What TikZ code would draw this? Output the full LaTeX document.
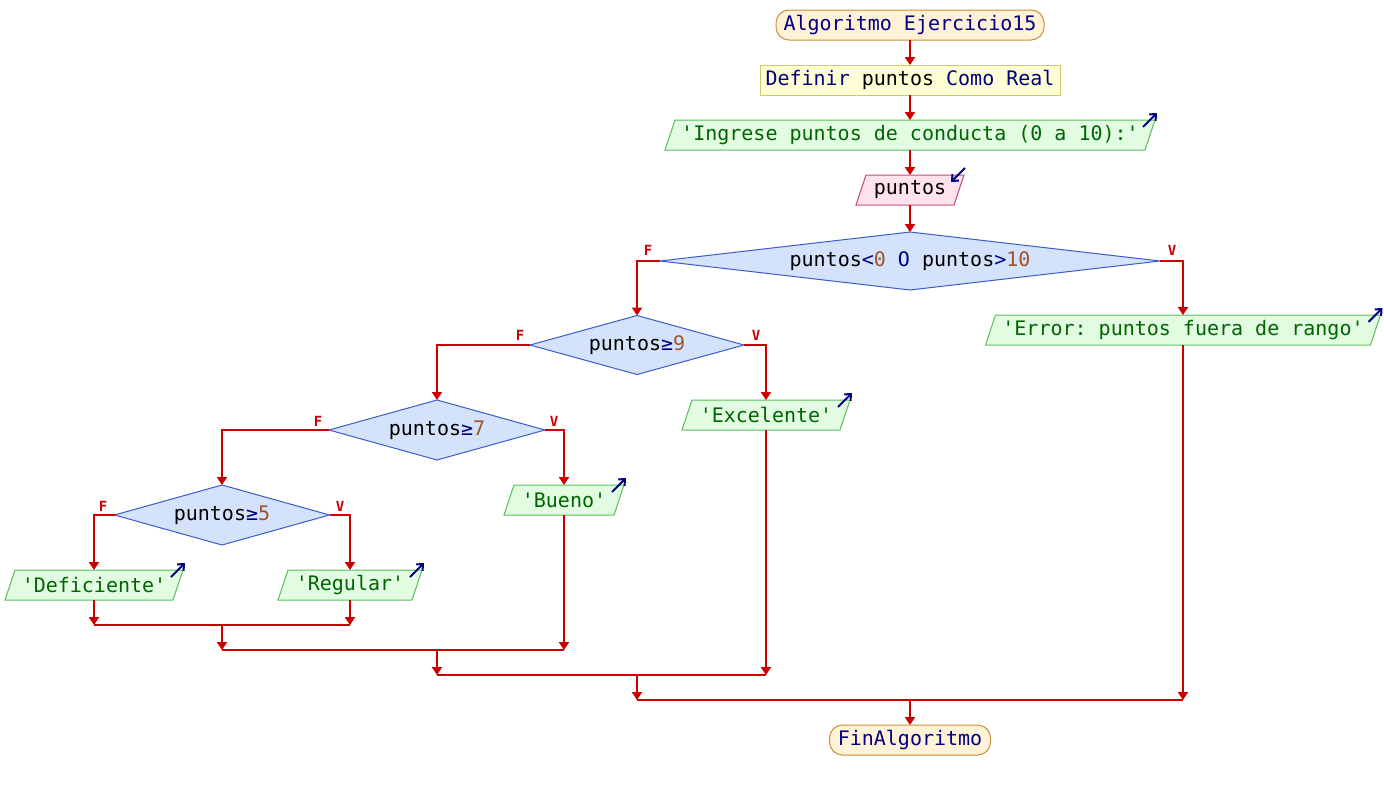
\documentclass[tikz,border=0pt]{standalone}
\usepackage{fontspec}
\setmonofont{DejaVu Sans Mono}
\usetikzlibrary{arrows.meta,calc,backgrounds}
\definecolor{lred}{HTML}{CC0000}
\definecolor{kw}{HTML}{000080}
\definecolor{strg}{HTML}{006400}
\definecolor{num}{HTML}{A0522D}
\definecolor{termfill}{HTML}{FFF2D6}
\definecolor{termdraw}{HTML}{C8913C}
\definecolor{deffill}{HTML}{FFFFD5}
\definecolor{defdraw}{HTML}{CCCC66}
\definecolor{outfill}{HTML}{E2FCE2}
\definecolor{outdraw}{HTML}{5DBE5D}
\definecolor{infill}{HTML}{FFE2EE}
\definecolor{indraw}{HTML}{C0507A}
\definecolor{dfill}{HTML}{D4E3FB}
\definecolor{ddraw}{HTML}{3A5BC8}
\newcommand{\myparal}[3]{%
  \path[fill=#2, draw=#3, line width=1pt]
    ($(#1.south west)+(-5,0)$) -- ($(#1.south east)+(-5,0)$) --
    ($(#1.north east)+(5,0)$) -- ($(#1.north west)+(5,0)$) -- cycle;}
\newcommand{\mydiam}[1]{%
  \path[fill=dfill, draw=ddraw, line width=1pt]
    (#1.west) -- (#1.north) -- (#1.east) -- (#1.south) -- cycle;}
\tikzset{
  base/.style={inner sep=0pt, outer sep=0pt, font=\ttfamily\fontsize{20}{24}\selectfont, align=center},
  term/.style={base, draw=termdraw, fill=termfill, rounded corners=13pt, line width=1pt, text=kw, minimum height=30pt},
  defbox/.style={base, draw=defdraw, fill=deffill, line width=1pt, minimum height=30pt},
  iobox/.style={base, minimum height=30pt},
  outbox/.style={iobox, text=strg},
  cond/.style={base},
  flow/.style={draw=lred, line width=2.2pt},
  arr/.style={flow, -{Triangle[length=8pt,width=10pt]}},
  lbl/.style={font=\ttfamily\bfseries\fontsize{14}{14}\selectfont, text=lred, inner sep=0pt},
  sarr/.style={draw=kw, line width=2pt, -{Straight Barb[length=5pt,width=9pt]}},
}
\begin{document}
\begin{tikzpicture}[x=1pt,y=-1pt]
\useasboundingbox (0,0) rectangle (1384,790);

% nodes
\node[term, minimum width=268pt] (start) at (910,25) {Algoritmo Ejercicio15};
\node[defbox, minimum width=300pt] (defn) at (910,80) {\textcolor{kw}{Definir} puntos \textcolor{kw}{Como Real}};
\node[outbox, minimum width=480pt] (ing) at (910,135) {'Ingrese puntos de conducta (0 a 10):'};
\node[iobox, minimum width=98pt] (inp) at (910,190) {puntos};
\node[cond, minimum width=500pt, minimum height=58pt] (d1) at (910,261)
  {puntos\textcolor{kw}{<}\textcolor{num}{0} \textcolor{kw}{O} puntos\textcolor{kw}{>}\textcolor{num}{10}};
\node[outbox, minimum width=385pt] (err) at (1183,330) {'Error: puntos fuera de rango'};
\node[cond, minimum width=214pt, minimum height=59pt] (d2) at (637,345) {puntos\textcolor{kw}{≥}\textcolor{num}{9}};
\node[outbox, minimum width=158pt] (exc) at (766,415) {'Excelente'};
\node[cond, minimum width=216pt, minimum height=60pt] (d3) at (437,430) {puntos\textcolor{kw}{≥}\textcolor{num}{7}};
\node[outbox, minimum width=110pt] (bue) at (564,500) {'Bueno'};
\node[cond, minimum width=215pt, minimum height=60pt] (d4) at (222,515) {puntos\textcolor{kw}{≥}\textcolor{num}{5}};
\node[outbox, minimum width=168pt] (defi) at (94,585) {'Deficiente'};
\node[outbox, minimum width=134pt] (reg) at (350,585) {'Regular'};
\node[term, minimum width=161pt] (fin) at (910,740) {FinAlgoritmo};

% shapes behind
\begin{scope}[on background layer]
  \myparal{ing}{outfill}{outdraw}
  \myparal{inp}{infill}{indraw}
  \myparal{err}{outfill}{outdraw}
  \myparal{exc}{outfill}{outdraw}
  \myparal{bue}{outfill}{outdraw}
  \myparal{defi}{outfill}{outdraw}
  \myparal{reg}{outfill}{outdraw}
  \mydiam{d1}
  \mydiam{d2}
  \mydiam{d3}
  \mydiam{d4}
\end{scope}

% small io arrows
\draw[sarr] ($(ing.north east)+(5,0)+(-12,7)$) -- ($(ing.north east)+(5,0)+(2,-7)$);
\draw[sarr] ($(inp.north east)+(5,0)+(1,-7)$) -- ($(inp.north east)+(5,0)+(-13,7)$);
\draw[sarr] ($(err.north east)+(5,0)+(-12,7)$) -- ($(err.north east)+(5,0)+(2,-7)$);
\draw[sarr] ($(exc.north east)+(5,0)+(-12,7)$) -- ($(exc.north east)+(5,0)+(2,-7)$);
\draw[sarr] ($(bue.north east)+(5,0)+(-12,7)$) -- ($(bue.north east)+(5,0)+(2,-7)$);
\draw[sarr] ($(defi.north east)+(5,0)+(-12,7)$) -- ($(defi.north east)+(5,0)+(2,-7)$);
\draw[sarr] ($(reg.north east)+(5,0)+(-12,7)$) -- ($(reg.north east)+(5,0)+(2,-7)$);

% main flow
\draw[arr] (start) -- (defn);
\draw[arr] (defn) -- (ing);
\draw[arr] (ing) -- (inp);
\draw[arr] (inp) -- (d1);

% branches
\draw[arr] (d1.west) -| (d2.north);
\draw[arr] (d1.east) -| (err.north);
\draw[arr] (d2.west) -| (d3.north);
\draw[arr] (d2.east) -| (exc.north);
\draw[arr] (d3.west) -| (d4.north);
\draw[arr] (d3.east) -| (bue.north);
\draw[arr] (d4.west) -| (defi.north);
\draw[arr] (d4.east) -| (reg.north);

% labels
\node[lbl] (f1) at (648,250) {F};
\node[lbl] (v1) at (1172,250) {V};
\node[lbl] (f2) at (520,335) {F};
\node[lbl] (v2) at (756,335) {V};
\node[lbl] (f3) at (318,421) {F};
\node[lbl] (v3) at (554,421) {V};
\node[lbl] (f4) at (103,506) {F};
\node[lbl] (v4) at (340,506) {V};

% merges
\coordinate (m1) at (222,625);
\coordinate (m2) at (437,650);
\coordinate (m3) at (637,675);
\coordinate (m4) at (910,700);
\draw[arr] (defi.south) -- (defi.south |- m1);
\draw[arr] (reg.south) -- (reg.south |- m1);
\draw[flow] (defi.south |- m1) -- (reg.south |- m1);
\draw[arr] (m1) -- (m1 |- m2);
\draw[arr] (bue.south) -- (bue.south |- m2);
\draw[flow] (m1 |- m2) -- (bue.south |- m2);
\draw[arr] (m2) -- (m2 |- m3);
\draw[arr] (exc.south) -- (exc.south |- m3);
\draw[flow] (m2 |- m3) -- (exc.south |- m3);
\draw[arr] (m3) -- (m3 |- m4);
\draw[arr] (err.south) -- (err.south |- m4);
\draw[flow] (m3 |- m4) -- (err.south |- m4);
\draw[arr] (m4) -- (fin.north);
\end{tikzpicture}
\end{document}
